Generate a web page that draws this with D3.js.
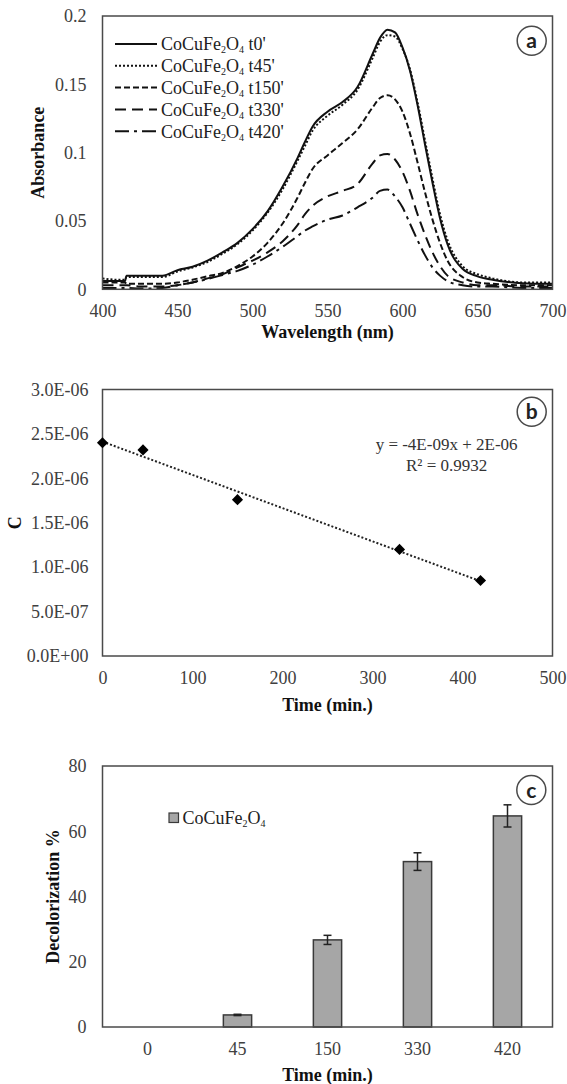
<!DOCTYPE html>
<html><head><meta charset="utf-8">
<script src="https://cdn.jsdelivr.net/npm/d3@7"></script>
<style>body{margin:0;background:#fff} svg text{font-family:'Liberation Serif','Times New Roman',serif}</style>
</head><body><svg id="chart" width="567" height="1084"></svg>
<script>
// ---------- Panel (a) data ----------
const wavelengths = [400,410,415,416,425,440,450,460,470,480,490,500,510,520,530,535,540,550,560,570,580,585,590,595,600,605,610,615,620,625,630,640,650,660,680,700];
const absT0   = [.006,.006,.006,.010,.010,.010,.014,.0165,.021,.027,.034,.044,.057,.075,.096,.108,.119,.130,.137,.148,.172,.184,.190,.188,.177,.160,.135,.106,.078,.052,.033,.015,.0095,.007,.0045,.004];
const absT45  = [.008,.007,.007,.009,.009,.009,.013,.016,.020,.026,.033,.043,.056,.073,.094,.105,.116,.127,.135,.146,.169,.181,.186,.185,.176,.161,.137,.109,.081,.055,.036,.017,.011,.008,.005,.005];
const absT150 = [.005,.005,.005,.004,.004,.004,.005,.007,.0095,.012,.017,.024,.034,.048,.067,.078,.088,.098,.107,.117,.133,.140,.142,.139,.130,.114,.093,.071,.051,.034,.021,.009,.005,.004,.003,.003];
const absT330 = [.003,.003,.003,.003,.002,.002,.003,.005,.008,.011,.016,.021,.027,.035,.047,.055,.061,.068,.072,.077,.092,.098,.099,.095,.086,.072,.055,.040,.027,.017,.010,.005,.003,.003,.002,.002];
const absT420 = [.001,.001,.001,.001,.0005,.001,.003,.005,.0075,.0105,.0135,.018,.024,.031,.039,.043,.046,.051,.054,.060,.067,.072,.073,.068,.060,.048,.036,.025,.016,.010,.006,.003,.002,.002,.001,.001];
const legendTimes = ["t0'","t45'","t150'","t330'","t420'"];
const aXTicks = [400,450,500,550,600,650,700];
const aYTicks = [0,0.05,0.1,0.15,0.2];
const aYLabels = ["0","0.05","0.1","0.15","0.2"];

// ---------- Panel (b) data ----------
const times = [0,45,150,330,420];
const conc = [2.40e-6,2.32e-6,1.76e-6,1.20e-6,0.85e-6];
const bXTicks = [0,100,200,300,400,500];
const bYTicks = [0,0.5e-6,1.0e-6,1.5e-6,2.0e-6,2.5e-6,3.0e-6];
const bYLabels = ["0.0E+00","5.0E-07","1.0E-06","1.5E-06","2.0E-06","2.5E-06","3.0E-06"];
const eqText = "y = -4E-09x + 2E-06";
const r2Text = "R\u00B2 = 0.9932";

// ---------- Panel (c) data ----------
const timeCats = ["0","45","150","330","420"];
const decol = [0,3.7,26.7,50.7,64.7];
const decolErr = [0,0.2,1.4,2.7,3.4];
const cYTicks = [0,20,40,60,80];

// ---------- common ----------
const svg = d3.select("#chart");
svg.append("rect").attr("width",567).attr("height",1084).attr("fill","#fff");
const SERIF = "'Liberation Serif','Times New Roman',serif";
const L = 102.5, R = 552.5;
const frameColor = "#4a4a4a";
const tickColor = "#404040";

function styleAxis(g){
  g.select(".domain").remove();
  g.attr("font-family",SERIF).attr("font-size",18);
  g.selectAll("text").style("font-family",SERIF).style("font-size","18px").attr("fill",tickColor);
}
function frame(top,bottom){
  svg.append("rect").attr("x",L).attr("y",top).attr("width",R-L).attr("height",bottom-top)
    .attr("fill","none").attr("stroke",frameColor).attr("stroke-width",1.5);
}
function title(text,x,y,rot){
  svg.append("text").style("font-family",SERIF).attr("font-size",18).attr("font-weight","bold")
    .attr("fill","#111").attr("text-anchor","middle").attr("dy","0.35em")
    .attr("transform",`translate(${x},${y})` + (rot?" rotate(-90)":"")).text(text);
}
function badge(letter,x,y){
  svg.append("circle").attr("cx",x).attr("cy",y).attr("r",14.5).attr("fill","#fff")
    .attr("stroke",frameColor).attr("stroke-width",1.5);
  svg.append("text").attr("x",x).attr("y",y).attr("dy","0.36em").attr("text-anchor","middle")
    .style("font-family","Lato,'Open Sans',sans-serif").attr("font-weight","bold").attr("font-size",21)
    .attr("fill","#222").text(letter);
}
function compound(sel,suffix){
  sel.append("tspan").text("CoCuFe");
  sel.append("tspan").attr("font-size",10).attr("dy",3).text("2");
  sel.append("tspan").attr("dy",-3).text("O");
  sel.append("tspan").attr("font-size",10).attr("dy",3).text("4");
  if(suffix) sel.append("tspan").attr("dy",-3).text(" "+suffix);
}

// ================= Panel (a) =================
{
  const top = 16, bottom = 289.3;
  const x = d3.scaleLinear().domain([400,700]).range([L,R]);
  const y = d3.scaleLinear().domain([0,0.2]).range([bottom,top]);
  svg.append("g").attr("transform",`translate(0,${bottom})`)
    .call(d3.axisBottom(x).tickValues(aXTicks).tickSize(0).tickPadding(15)).call(styleAxis);
  svg.append("g").attr("transform",`translate(${L},0)`)
    .call(d3.axisLeft(y).tickValues(aYTicks).tickSize(0).tickPadding(16).tickFormat((d,i)=>aYLabels[i])).call(styleAxis);
  const series = [absT0,absT45,absT150,absT330,absT420];
  const dashes = [null,"2,2","6,3","11,6","14,5,3,5"];
  const line = d3.line().x((d,i)=>x(wavelengths[i])).y(d=>y(d)).curve(d3.curveMonotoneX);
  series.forEach((s,k)=>{
    svg.append("path").datum(s).attr("d",line).attr("fill","none").attr("stroke","#111")
      .attr("stroke-width",2).attr("stroke-dasharray",dashes[k]);
  });
  frame(top,bottom);
  legendTimes.forEach((t,k)=>{
    const yy = 44 + k*21.8;
    svg.append("line").attr("x1",115).attr("x2",157).attr("y1",yy).attr("y2",yy)
      .attr("stroke","#111").attr("stroke-width",2).attr("stroke-dasharray",dashes[k]);
    const tx = svg.append("text").attr("x",161).attr("y",yy).attr("dy","0.35em")
      .attr("font-size",18).attr("fill","#222");
    compound(tx,t);
  });
  badge("a",531.7,40.7);
  title("Absorbance",38,(top+bottom)/2,true);
  title("Wavelength (nm)",(L+R)/2,332,false);
}

// ================= Panel (b) =================
{
  const top = 389.5, bottom = 656;
  const x = d3.scaleLinear().domain([0,500]).range([L,R]);
  const y = d3.scaleLinear().domain([0,3e-6]).range([bottom,top]);
  svg.append("g").attr("transform",`translate(0,${bottom})`)
    .call(d3.axisBottom(x).tickValues(bXTicks).tickSize(0).tickPadding(15)).call(styleAxis);
  svg.append("g").attr("transform",`translate(${L},0)`)
    .call(d3.axisLeft(y).tickValues(bYTicks).tickSize(0).tickPadding(14).tickFormat((d,i)=>bYLabels[i])).call(styleAxis);
  const mx = d3.mean(times), my = d3.mean(conc);
  const slope = d3.sum(times,(t,i)=>(t-mx)*(conc[i]-my)) / d3.sum(times,t=>(t-mx)*(t-mx));
  const icpt = my - slope*mx;
  const x0 = d3.min(times), x1 = d3.max(times);
  svg.append("line").attr("x1",x(x0)).attr("y1",y(icpt+slope*x0)).attr("x2",x(x1)).attr("y2",y(icpt+slope*x1))
    .attr("stroke","#222").attr("stroke-width",2).attr("stroke-dasharray","2,2");
  frame(top,bottom);
  const diamond = d3.symbol().type(d3.symbolSquare).size(62);
  svg.selectAll(".pt").data(times).enter().append("path")
    .attr("d",diamond).attr("transform",(t,i)=>`translate(${x(t)},${y(conc[i])}) rotate(45)`)
    .attr("fill","#000");
  svg.append("text").attr("x",446.6).attr("y",444.5).attr("dy","0.35em").attr("text-anchor","middle")
    .attr("font-size",17).attr("fill","#333").text(eqText);
  svg.append("text").attr("x",446.6).attr("y",465.2).attr("dy","0.35em").attr("text-anchor","middle")
    .attr("font-size",17).attr("fill","#333").text(r2Text);
  badge("b",531.7,411.7);
  title("C",15,(top+bottom)/2,true);
  title("Time (min.)",(L+R)/2,705,false);
}

// ================= Panel (c) =================
{
  const top = 766, bottom = 1027;
  const x = d3.scaleBand().domain(timeCats).range([L,R]).paddingInner(0.686).paddingOuter(0.343);
  const y = d3.scaleLinear().domain([0,80]).range([bottom,top]);
  svg.append("g").attr("transform",`translate(0,${bottom})`)
    .call(d3.axisBottom(x).tickSize(0).tickPadding(15)).call(styleAxis);
  svg.append("g").attr("transform",`translate(${L},0)`)
    .call(d3.axisLeft(y).tickValues(cYTicks).tickSize(0).tickPadding(16)).call(styleAxis);
  const idx = d3.range(timeCats.length).filter(i=>decol[i]>0);
  svg.selectAll(".bar").data(idx).enter().append("rect")
    .attr("x",i=>x(timeCats[i])).attr("width",x.bandwidth())
    .attr("y",i=>y(decol[i])).attr("height",i=>bottom-y(decol[i]))
    .attr("fill","#a6a6a6").attr("stroke","#3a3a3a").attr("stroke-width",1.5);
  frame(top,bottom);
  const eg = svg.append("g").attr("stroke","#222").attr("stroke-width",1.5);
  idx.filter(i=>decolErr[i]>0).forEach(i=>{
    const cx = x(timeCats[i]) + x.bandwidth()/2;
    const y1 = y(decol[i]+decolErr[i]), y2 = y(decol[i]-decolErr[i]);
    eg.append("line").attr("x1",cx).attr("x2",cx).attr("y1",y1).attr("y2",y2);
    eg.append("line").attr("x1",cx-4).attr("x2",cx+4).attr("y1",y1).attr("y2",y1);
    eg.append("line").attr("x1",cx-4).attr("x2",cx+4).attr("y1",y2).attr("y2",y2);
  });
  svg.append("rect").attr("x",169).attr("y",813).attr("width",9.5).attr("height",9.5)
    .attr("fill","#a6a6a6").attr("stroke","#3a3a3a").attr("stroke-width",1.2);
  const lt = svg.append("text").attr("x",182.6).attr("y",817.7).attr("dy","0.35em")
    .attr("font-size",18).attr("fill","#222");
  compound(lt,null);
  badge("c",531.3,790);
  title("Decolorization %",53,(top+bottom)/2,true);
  title("Time (min.)",(L+R)/2,1075,false);
}
</script></body></html>
